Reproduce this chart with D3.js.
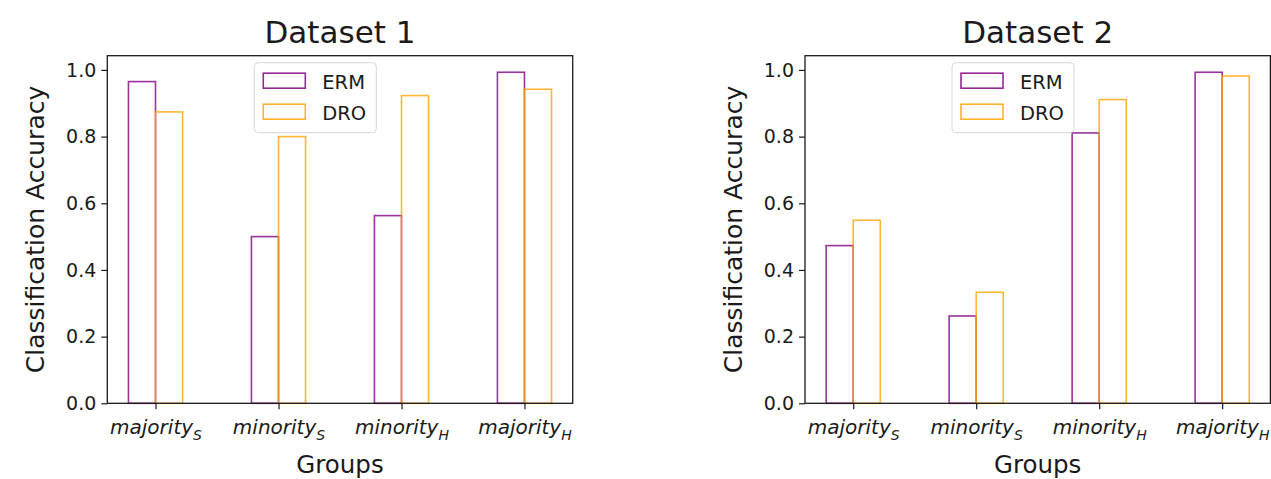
<!DOCTYPE html>
<html>
<head>
<meta charset="utf-8">
<script src="https://cdn.jsdelivr.net/npm/d3@7"></script>
<style>
  body { margin: 0; background: #fff; }
  text { font-family: "DejaVu Sans", sans-serif; fill: #1a1a1a; }
</style>
</head>
<body>
<div id="chart"></div>
<script>
// groups on the x axis: [base, subscript]
const groups = [["majority", "S"], ["minority", "S"], ["minority", "H"], ["majority", "H"]];
const methods = ["ERM", "DRO"];
const colors = { ERM: "#800080", DRO: "#ffa500" };

// accuracies
const d1ERM = [0.965, 0.50, 0.563, 0.993];
const d1DRO = [0.874, 0.80, 0.923, 0.942];
const d2ERM = [0.473, 0.262, 0.811, 0.993];
const d2DRO = [0.549, 0.333, 0.911, 0.982];

const yTicks = [0, 0.2, 0.4, 0.6, 0.8, 1.0];
const barWidth = 0.22;

const width = 1271, height = 479;

const svg = d3.select("#chart").append("svg")
    .attr("width", width)
    .attr("height", height);

// Draw one subplot
function drawPanel(left, title, erm, dro) {
    const plotW = 465.4, top = 55.7, bottom = 403.3;
    const right = left + plotW;

    const n = groups.length;
    const span = (n - 1) + 2 * barWidth;
    const xScale = d3.scaleLinear()
        .domain([-barWidth - 0.05 * span, (n - 1) + barWidth + 0.05 * span])
        .range([left, right]);

    const yMax = d3.max(erm.concat(dro)) * 1.05;
    const yScale = d3.scaleLinear()
        .domain([0, yMax])
        .range([bottom, top]);

    const g = svg.append("g");

    // bars (outline only)
    const series = [
        { name: "ERM", values: erm, offset: -barWidth },
        { name: "DRO", values: dro, offset: 0 }
    ];
    series.forEach(s => {
        g.selectAll(null)
            .data(s.values)
            .enter()
            .append("rect")
            .attr("x", (d, i) => xScale(i + s.offset))
            .attr("y", d => yScale(d))
            .attr("width", xScale(barWidth) - xScale(0))
            .attr("height", d => yScale(0) - yScale(d))
            .attr("fill", "none")
            .attr("stroke", colors[s.name])
            .attr("stroke-opacity", 0.8)
            .attr("stroke-width", 1.6);
    });

    // axes
    const xAxis = d3.axisBottom(xScale)
        .tickValues(d3.range(n))
        .tickSize(6)
        .tickPadding(6)
        .tickFormat("");
    const yAxis = d3.axisLeft(yScale)
        .tickValues(yTicks)
        .tickSize(6)
        .tickPadding(5)
        .tickFormat(d3.format(".1f"));

    const xg = g.append("g")
        .attr("transform", `translate(0, ${bottom})`)
        .call(xAxis);
    const yg = g.append("g")
        .attr("transform", `translate(${left}, 0)`)
        .call(yAxis);

    [xg, yg].forEach(a => {
        a.select(".domain").remove();
        a.selectAll(".tick line").attr("stroke", "#1a1a1a").attr("stroke-width", 1.2);
    });
    yg.selectAll(".tick text")
        .attr("font-size", "19px")
        .attr("fill", "#1a1a1a");

    // italic labels with subscripts
    xg.selectAll(".tick").each(function (d) {
        const t = d3.select(this).append("text")
            .attr("y", 31)
            .attr("text-anchor", "middle")
            .attr("font-size", "20px")
            .attr("font-style", "italic")
            .attr("fill", "#1a1a1a");
        t.append("tspan").text(groups[d][0]);
        t.append("tspan")
            .attr("dy", 6)
            .attr("font-size", "14px")
            .text(groups[d][1]);
    });

    // frame
    g.append("rect")
        .attr("x", left)
        .attr("y", top)
        .attr("width", plotW)
        .attr("height", bottom - top)
        .attr("fill", "none")
        .attr("stroke", "#1a1a1a")
        .attr("stroke-width", 1.3);

    // title and labels
    g.append("text")
        .attr("x", (left + right) / 2)
        .attr("y", 43)
        .attr("text-anchor", "middle")
        .attr("font-size", "31px")
        .text(title);

    g.append("text")
        .attr("x", (left + right) / 2)
        .attr("y", 473)
        .attr("text-anchor", "middle")
        .attr("font-size", "24.5px")
        .text("Groups");

    g.append("text")
        .attr("transform", `translate(${left - 63}, ${(top + bottom) / 2}) rotate(-90)`)
        .attr("text-anchor", "middle")
        .attr("font-size", "25px")
        .text("Classification Accuracy");

    // legend
    const lx = left + 147, ly = 62.7;
    const legend = g.append("g").attr("transform", `translate(${lx}, ${ly})`);
    legend.append("rect")
        .attr("width", 122)
        .attr("height", 70)
        .attr("rx", 4)
        .attr("fill", "#fff")
        .attr("fill-opacity", 0.8)
        .attr("stroke", "#d6d6d6")
        .attr("stroke-width", 1);
    methods.forEach((m, i) => {
        const row = legend.append("g").attr("transform", `translate(0, ${10.5 + i * 31})`);
        row.append("rect")
            .attr("x", 9)
            .attr("y", 0)
            .attr("width", 42)
            .attr("height", 15)
            .attr("fill", "none")
            .attr("stroke", colors[m])
            .attr("stroke-opacity", 0.85)
            .attr("stroke-width", 1.6);
        row.append("text")
            .attr("x", 68)
            .attr("y", 15.5)
            .attr("font-size", "19.5px")
            .text(m);
    });
}

drawPanel(107.3, "Dataset 1", d1ERM, d1DRO);
drawPanel(805, "Dataset 2", d2ERM, d2DRO);
</script>
</body>
</html>
